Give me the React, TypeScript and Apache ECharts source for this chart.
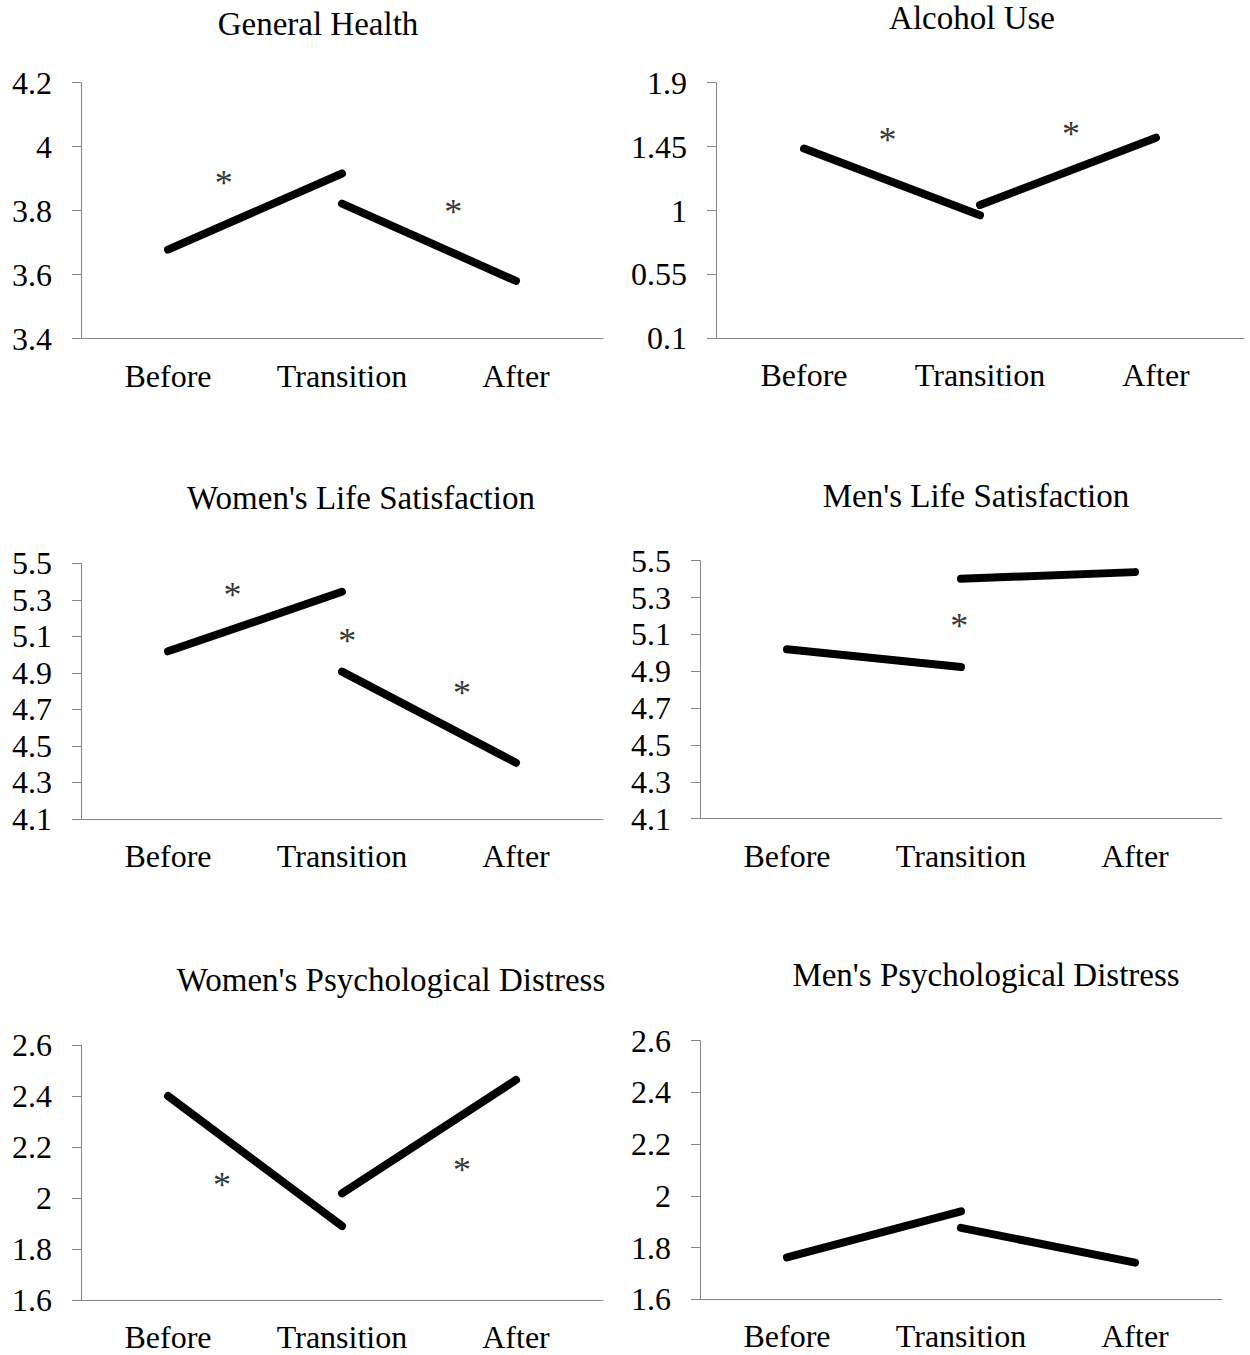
import React, { useEffect, useRef } from "react";
import * as echarts from "echarts";

const CATEGORIES = ["Before", "Transition", "After"];

// General Health
const GH_TICKS = [3.4, 3.6, 3.8, 4, 4.2];
const GH_SEG1 = [3.678, 3.916, null];
const GH_SEG2 = [null, 3.822, 3.58];
const GH_STARS = [[0.32, 3.902], [1.64, 3.811]];

// Alcohol Use
const AU_TICKS = [0.1, 0.55, 1, 1.45, 1.9];
const AU_SEG1 = [1.436, 0.966, null];
const AU_SEG2 = [null, 1.039, 1.513];
const AU_STARS = [[0.475, 1.53], [1.517, 1.575]];

// Women's Life Satisfaction
const WLS_TICKS = [4.1, 4.3, 4.5, 4.7, 4.9, 5.1, 5.3, 5.5];
const WLS_SEG1 = [5.018, 5.344, null];
const WLS_SEG2 = [null, 4.907, 4.408];
const WLS_STARS = [[0.37, 5.352], [1.03, 5.102], [1.69, 4.816]];

// Men's Life Satisfaction
const MLS_TICKS = [4.1, 4.3, 4.5, 4.7, 4.9, 5.1, 5.3, 5.5];
const MLS_SEG1 = [5.019, 4.923, null];
const MLS_SEG2 = [null, 5.402, 5.438];
const MLS_STARS = [[0.99, 5.171]];

// Women's Psychological Distress
const WPD_TICKS = [1.6, 1.8, 2, 2.2, 2.4, 2.6];
const WPD_SEG1 = [2.4, 1.891, null];
const WPD_SEG2 = [null, 2.019, 2.463];
const WPD_STARS = [[0.31, 2.072], [1.69, 2.13]];

// Men's Psychological Distress
const MPD_TICKS = [1.6, 1.8, 2, 2.2, 2.4, 2.6];
const MPD_SEG1 = [1.762, 1.94, null];
const MPD_SEG2 = [null, 1.876, 1.742];
const MPD_STARS: number[][] = [];

const PANELS = [
  { title: "General Health", tx: 318, ty: 24, ticks: GH_TICKS, s1: GH_SEG1, s2: GH_SEG2, stars: GH_STARS,
    grid: { left: 81, top: 82.7, width: 522, height: 255.8 } },
  { title: "Alcohol Use", tx: 972, ty: 18, ticks: AU_TICKS, s1: AU_SEG1, s2: AU_SEG2, stars: AU_STARS,
    grid: { left: 716, top: 82.7, width: 528, height: 255.6 } },
  { title: "Women's Life Satisfaction", tx: 361, ty: 498, ticks: WLS_TICKS, s1: WLS_SEG1, s2: WLS_SEG2, stars: WLS_STARS,
    grid: { left: 81, top: 563.3, width: 522, height: 255.7 } },
  { title: "Men's Life Satisfaction", tx: 976, ty: 496, ticks: MLS_TICKS, s1: MLS_SEG1, s2: MLS_SEG2, stars: MLS_STARS,
    grid: { left: 700, top: 560.7, width: 522, height: 258 } },
  { title: "Women's Psychological Distress", tx: 391, ty: 980, ticks: WPD_TICKS, s1: WPD_SEG1, s2: WPD_SEG2, stars: WPD_STARS,
    grid: { left: 81, top: 1045, width: 522, height: 255.3 } },
  { title: "Men's Psychological Distress", tx: 986, ty: 975, ticks: MPD_TICKS, s1: MPD_SEG1, s2: MPD_SEG2, stars: MPD_STARS,
    grid: { left: 700, top: 1040.7, width: 522, height: 258.6 } },
];

const FONT = '"Liberation Serif", "Times New Roman", serif';
const AXIS_COLOR = "#888888";

function buildOption() {
  const grid: any[] = [];
  const xAxis: any[] = [];
  const yAxis: any[] = [];
  const series: any[] = [];
  const graphic: any[] = [];

  PANELS.forEach((p, i) => {
    grid.push({ ...p.grid, containLabel: false, outerBoundsMode: "none" });
    xAxis.push({
      type: "category",
      gridIndex: i,
      data: CATEGORIES,
      boundaryGap: true,
      axisLine: { show: true, onZero: false, lineStyle: { color: AXIS_COLOR, width: 1 } },
      axisTick: { show: false },
      splitLine: { show: false },
      axisLabel: { interval: 0, margin: 21, color: "#000", fontFamily: FONT, fontSize: 32 },
    });
    xAxis.push({
      type: "value",
      gridIndex: i,
      min: -0.5,
      max: 2.5,
      show: false,
      axisLine: { onZero: false },
    });
    const lo = p.ticks[0];
    const hi = p.ticks[p.ticks.length - 1];
    yAxis.push({
      type: "value",
      gridIndex: i,
      min: lo,
      max: hi,
      axisLine: { show: true, onZero: false, lineStyle: { color: AXIS_COLOR, width: 1 } },
      axisTick: { show: true, length: 9, inside: false, customValues: p.ticks, lineStyle: { color: AXIS_COLOR, width: 1 } },
      splitLine: { show: false },
      axisLabel: {
        customValues: p.ticks,
        margin: 29,
        color: "#000",
        fontFamily: FONT,
        fontSize: 32,
        formatter: (v: number) => String(Math.round(v * 1000) / 1000),
      },
    });
    [p.s1, p.s2].forEach((d) => {
      series.push({
        type: "line",
        xAxisIndex: 2 * i,
        yAxisIndex: i,
        data: d,
        symbol: "none",
        showSymbol: false,
        connectNulls: false,
        silent: true,
        lineStyle: { color: "#000", width: 8, cap: "round", join: "round" },
      });
    });
    if (p.stars.length) {
      series.push({
        type: "scatter",
        xAxisIndex: 2 * i + 1,
        yAxisIndex: i,
        data: p.stars,
        symbol: "circle",
        symbolSize: 1,
        silent: true,
        itemStyle: { color: "rgba(0,0,0,0)" },
        label: {
          show: true,
          position: "inside",
          formatter: "*",
          color: "#000",
          fontFamily: FONT,
          fontSize: 36,
          offset: [0, 5],
        },
      });
    }
    graphic.push({
      type: "text",
      x: p.tx,
      y: p.ty,
      silent: true,
      style: {
        text: p.title,
        fill: "#000",
        fontFamily: FONT,
        fontSize: 33,
        textAlign: "center",
        textVerticalAlign: "middle",
        verticalAlign: "middle",
      },
    });
  });

  return {
    animation: false,
    backgroundColor: "#ffffff",
    grid,
    xAxis,
    yAxis,
    series,
    graphic,
  };
}

export default function App() {
  const ref = useRef<HTMLDivElement>(null);
  useEffect(() => {
    if (!ref.current) return;
    const chart = echarts.init(ref.current, null, { renderer: "svg" });
    chart.setOption(buildOption() as any);
    return () => chart.dispose();
  }, []);
  return (
    <div
      ref={ref}
      style={{ position: "absolute", left: 0, top: 0, width: 1250, height: 1355, background: "#fff" }}
    />
  );
}
